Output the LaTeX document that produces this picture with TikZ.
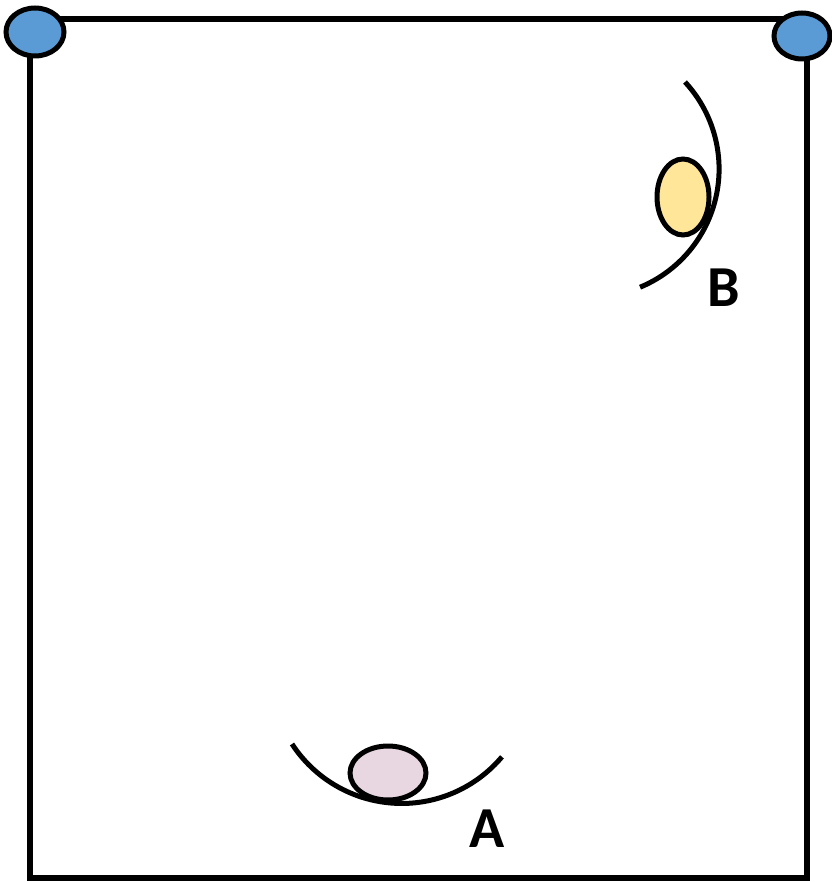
\documentclass[tikz,border=0pt]{standalone}
\usepackage{fontspec}
\setmainfont{Carlito}
\begin{document}
\begin{tikzpicture}[x=1pt,y=-1pt,
  frame/.style={line width=5.5pt},
  blob/.style={draw=black,line width=5pt},
  track/.style={line width=5pt},
  lab/.style={font=\fontsize{58}{58}\selectfont\bfseries,inner sep=0pt}]
\useasboundingbox (0,0) rectangle (831,882);
\draw[frame] (30,19) rectangle (807,878);
\draw[blob,fill={rgb,255:red,91;green,155;blue,213}] (35,32) ellipse[x radius=29,y radius=24];
\draw[blob,fill={rgb,255:red,91;green,155;blue,213}] (802,36) ellipse[x radius=28,y radius=23];
% B
\draw[track] (685,82) arc[start angle=-42.8,end angle=67.5,radius=128];
\draw[blob,fill={rgb,255:red,255;green,230;blue,153}] (683,197) ellipse[x radius=26,y radius=38];
\node[lab] (B) at (724,288) {B};
% A
\draw[track] (292,744) arc[start angle=146.9,end angle=40.1,radius=131];
\draw[blob,fill={rgb,255:red,232;green,214;blue,224}] (388,773) ellipse[x radius=38,y radius=27];
\node[lab] (A) at (487,829) {A};
\end{tikzpicture}
\end{document}
